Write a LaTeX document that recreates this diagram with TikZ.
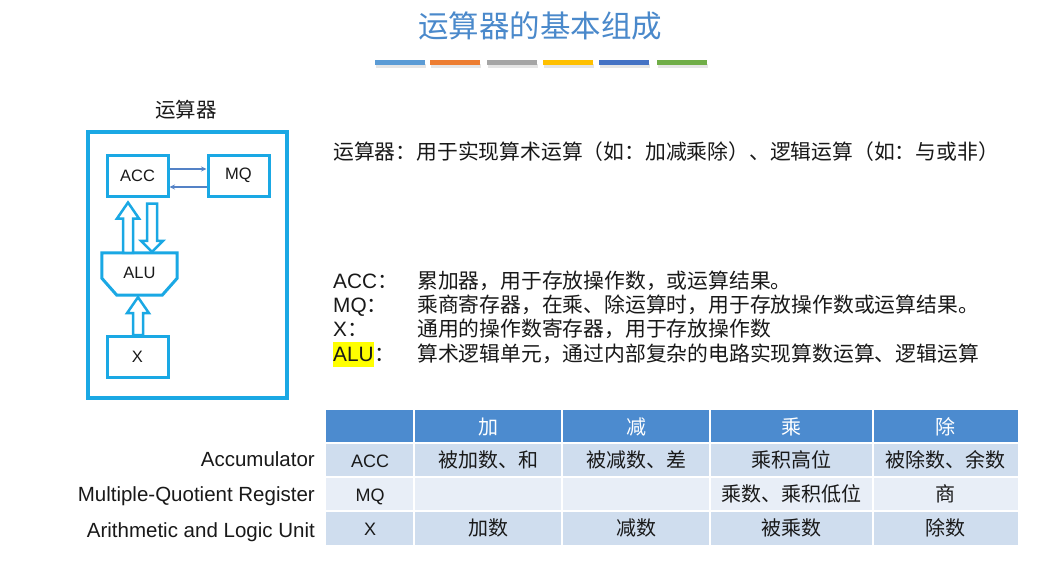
\documentclass[tikz,border=0pt]{standalone}
\usepackage{fontspec}
\setmainfont{Liberation Sans}
\newfontfamily\cjk{Noto Sans CJK SC}
\usetikzlibrary{calc,arrows.meta}

\definecolor{ink}{RGB}{25,25,25}
\definecolor{titleblue}{RGB}{74,137,203}
\definecolor{boxcyan}{RGB}{26,168,228}
\definecolor{linkblue}{RGB}{84,130,198}
\definecolor{hdrblue}{RGB}{76,139,207}
\definecolor{bandA}{RGB}{207,221,238}
\definecolor{bandB}{RGB}{232,238,247}
\definecolor{hl}{RGB}{255,255,0}
\definecolor{barA}{RGB}{91,155,213}
\definecolor{barB}{RGB}{237,125,49}
\definecolor{barC}{RGB}{165,165,165}
\definecolor{barD}{RGB}{255,192,0}
\definecolor{barE}{RGB}{68,114,196}
\definecolor{barF}{RGB}{112,173,71}

% hollow block arrow: #1 tail (its y is used), #2 tip, #3 head length
\newcommand\hollowarrow[3]{%
  \draw[hollow] let \p1=#1, \p2=#2,
      \n1={ifthenelse(\y2>\y1,1,-1)*#3},
      \n2={\y2-\n1} in
    (\x2-5pt,\y1) -- (\x2-5pt,\n2) -- (\x2-11pt,\n2) -- (\x2,\y2)
    -- (\x2+11pt,\n2) -- (\x2+5pt,\n2) -- (\x2+5pt,\y1) -- cycle;}

\begin{document}
\begin{tikzpicture}[x=1pt,y=-1pt,
  reg/.style={draw=boxcyan, line width=3pt, minimum width=61pt, minimum height=41pt,
              inner sep=0pt, text=ink, font=\fontsize{16.5}{18}\selectfont},
  hollow/.style={draw=boxcyan, line width=2.5pt, fill=white, line join=miter},
  link/.style={draw=linkblue, line width=1.3pt, -{Stealth[length=5.5pt,width=5pt]}},
  txt/.style={inner sep=0pt, anchor=base west, text=ink, font=\fontsize{20.8}{24}\selectfont},
  side/.style={inner sep=0pt, anchor=base east, text=ink, font=\fontsize{20.5}{24}\selectfont},
  cell/.style={inner sep=0pt, anchor=base, text=ink, font=\fontsize{20}{24}\selectfont},
  rowhead/.style={inner sep=0pt, anchor=base, text=ink, font=\fontsize{18}{22}\selectfont},
  gridline/.style={draw=white, line width=1.5pt}]

\useasboundingbox (0,0) rectangle (1055,562);
\fill[white] (0,0) rectangle (1055,562);

% ---- title and colour strip ----
\node[inner sep=0pt, text=titleblue, font=\cjk\fontsize{30.5}{34}\selectfont] (title) at (540,26) {运算器的基本组成};
\foreach \bx/\bc in {375/barA, 430/barB, 487/barC, 543/barD, 599/barE, 657/barF}{
  \fill[black!10] (\bx+1,64) rectangle (\bx+51,67.5);
  \fill[\bc] (\bx,60) rectangle (\bx+50,65);
}

% ---- block diagram of the unit ----
\node[inner sep=0pt, text=ink, font=\cjk\fontsize{20.5}{24}\selectfont] (unitlbl) at (186,110) {运算器};
\node[draw=boxcyan, line width=3.4pt, minimum width=199pt, minimum height=266pt, inner sep=0pt] (unit) at (187.5,265) {};

\node[reg] (acc) at (137.5,175.5) {ACC};
\node[reg] (mq)  at (238.5,175.5) {MQ};
\node[reg] (xr)  at (137.5,357) {X};
\node[inner sep=0pt, minimum width=75pt, minimum height=42pt, text=ink,
      font=\fontsize{16.5}{18}\selectfont] (alu) at (139.5,274) {};
\draw[draw=boxcyan, line width=3pt, line join=miter]
  (alu.north west) -- (alu.north east) -- ([yshift=17pt]alu.south east)
  -- ([xshift=-15pt]alu.south east) -- ([xshift=15pt]alu.south west)
  -- ([yshift=17pt]alu.south west) -- cycle;
\node[inner sep=0pt, text=ink, font=\fontsize{16.5}{18}\selectfont] (alutext) at ([yshift=1pt]alu.center) {ALU};

\draw[link] ([yshift=6.5pt]acc.east) -- ([yshift=6.5pt]mq.west);
\draw[link] ([yshift=-11.5pt]mq.west) -- ([yshift=-11.5pt]acc.east);

\hollowarrow{(alu.north)}{([xshift=-9.5pt,yshift=-5pt]acc.south)}{16}
\hollowarrow{([yshift=-6pt]acc.south)}{([xshift=12.5pt,yshift=1pt]alu.north)}{11}
\hollowarrow{(xr.north)}{([xshift=-1.5pt,yshift=-2pt]alu.south)}{16}

% ---- description ----
\node[txt] (intro) at (333,159.5) {\cjk 运算器：用于实现算术运算（如：加减乘除）、逻辑运算（如：与或非）};

\node[txt] (dacc) at (333,288.5) {ACC\cjk ：};
\node[txt] (tacc) at (417,288.5) {\cjk 累加器，用于存放操作数，或运算结果。};
\node[txt] (dmq) at (333,312.5) {MQ\cjk ：};
\node[txt] (tmq) at (417,312.5) {\cjk 乘商寄存器，在乘、除运算时，用于存放操作数或运算结果。};
\node[txt] (dx) at (333,336.5) {X\cjk ：};
\node[txt] (tx) at (417,336.5) {\cjk 通用的操作数寄存器，用于存放操作数};
\node[txt, fill=hl, text height=19.5pt, text depth=5.5pt] (dalu) at (333,361.5) {ALU};
\node[txt] (dalucolon) at (dalu.base east) {\cjk ：};
\node[txt] (talu) at (417,361.5) {\cjk 算术逻辑单元，通过内部复杂的电路实现算数运算、逻辑运算};

% ---- register usage table ----
\fill[hdrblue] (326,410) rectangle (1018,443);
\fill[bandA] (326,443) rectangle (1018,477);
\fill[bandB] (326,477) rectangle (1018,511);
\fill[bandA] (326,511) rectangle (1018,545);
\foreach \gx in {414,562,710,873} \draw[gridline] (\gx,410) -- (\gx,545);
\foreach \gy in {443,477,511} \draw[gridline] (326,\gy) -- (1018,\gy);

\node[cell, text=white] (hadd) at (488,434) {\cjk 加};
\node[cell, text=white] (hsub) at (636,434) {\cjk 减};
\node[cell, text=white] (hmul) at (791.5,434) {\cjk 乘};
\node[cell, text=white] (hdiv) at (945.5,434) {\cjk 除};

\node[rowhead] (racc) at (370,467) {ACC};
\node[rowhead] (rmq)  at (370,501) {MQ};
\node[rowhead] (rx)   at (370,535) {X};

\node[cell] (c11) at (488,467)   {\cjk 被加数、和};
\node[cell] (c12) at (636,467)   {\cjk 被减数、差};
\node[cell] (c13) at (791.5,467) {\cjk 乘积高位};
\node[cell] (c14) at (945.5,467) {\cjk 被除数、余数};
\node[cell] (c23) at (791.5,501) {\cjk 乘数、乘积低位};
\node[cell] (c24) at (945.5,501) {\cjk 商};
\node[cell] (c31) at (488,535)   {\cjk 加数};
\node[cell] (c32) at (636,535)   {\cjk 减数};
\node[cell] (c33) at (791.5,535) {\cjk 被乘数};
\node[cell] (c34) at (945.5,535) {\cjk 除数};

\node[side] (nacc) at (315,466) {Accumulator};
\node[side] (nmq)  at (315,501) {Multiple-Quotient Register};
\node[side] (nalu) at (315,537) {Arithmetic and Logic Unit};

\end{tikzpicture}
\end{document}
